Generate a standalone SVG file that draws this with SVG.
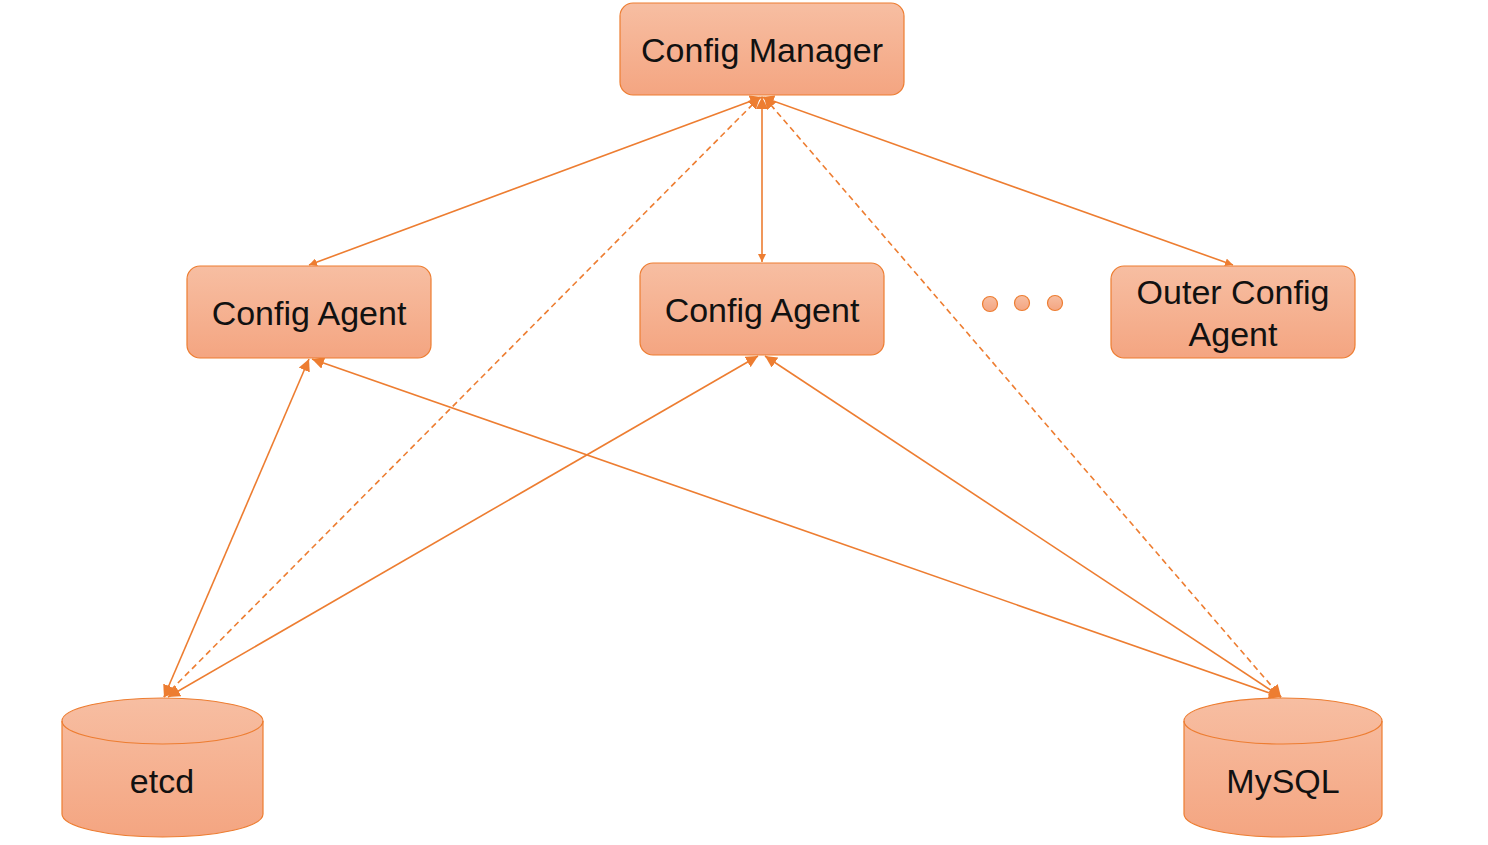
<svg xmlns="http://www.w3.org/2000/svg" width="1488" height="845" viewBox="0 0 1488 845">
<style>
.box{stroke:#ED7D31;stroke-width:1.2;fill:url(#g)}
.lbl{font-family:"Liberation Sans",Arial,sans-serif;font-size:34px;fill:#111;text-anchor:middle}
.c{stroke:#ED7D31;stroke-width:1.6;fill:none}
.d{stroke-dasharray:6 4}
</style>
<defs>
<linearGradient id="g" x1="0" y1="0" x2="0" y2="1">
<stop offset="0" stop-color="#F7BEA2"/>
<stop offset="1" stop-color="#F4A581"/>
</linearGradient>
<marker id="a" viewBox="0 0 10 10" refX="10" refY="5" markerWidth="8" markerHeight="8" orient="auto-start-reverse" markerUnits="userSpaceOnUse">
<path d="M0,0 L10,5 L0,10 z" fill="#ED7D31"/>
</marker>
<marker id="b" viewBox="0 0 10 10" refX="10" refY="5" markerWidth="12" markerHeight="12" orient="auto-start-reverse" markerUnits="userSpaceOnUse">
<path d="M0,0 L10,5 L0,10 z" fill="#ED7D31"/>
</marker>
</defs>
<g id="connectors">
<line class="c" x1="762" y1="97" x2="309" y2="265" marker-start="url(#b)" marker-end="url(#a)"/>
<line class="c" x1="762" y1="97" x2="762" y2="262" marker-start="url(#b)" marker-end="url(#a)"/>
<line class="c" x1="762" y1="97" x2="1233" y2="265" marker-start="url(#b)" marker-end="url(#a)"/>
<line class="c d" x1="760" y1="97" x2="164" y2="697" marker-start="url(#b)" marker-end="url(#b)"/>
<line class="c d" x1="764" y1="97" x2="1281" y2="697" marker-start="url(#b)" marker-end="url(#b)"/>
<line class="c" x1="309" y1="359" x2="164" y2="697" marker-start="url(#b)" marker-end="url(#b)"/>
<line class="c" x1="312" y1="359" x2="1281" y2="697" marker-start="url(#b)" marker-end="url(#b)"/>
<line class="c" x1="758" y1="356" x2="168" y2="697" marker-start="url(#b)" marker-end="url(#b)"/>
<line class="c" x1="765" y1="356" x2="1281" y2="697" marker-start="url(#b)" marker-end="url(#b)"/>
</g>
<g id="config-manager">
<rect class="box" x="620" y="3" width="284" height="92" rx="13"/>
<text class="lbl" x="762" y="62">Config Manager</text>
</g>
<g id="config-agent-1">
<rect class="box" x="187" y="266" width="244" height="92" rx="13"/>
<text class="lbl" x="309" y="325">Config Agent</text>
</g>
<g id="config-agent-2">
<rect class="box" x="640" y="263" width="244" height="92" rx="13"/>
<text class="lbl" x="762" y="322">Config Agent</text>
</g>
<g id="outer-config-agent">
<rect class="box" x="1111" y="266" width="244" height="92" rx="13"/>
<text class="lbl" x="1233" y="304">Outer Config</text>
<text class="lbl" x="1233" y="346">Agent</text>
</g>
<g id="ellipsis">
<circle class="box" cx="990" cy="304" r="7.5"/>
<circle class="box" cx="1022" cy="303" r="7.5"/>
<circle class="box" cx="1055" cy="303" r="7.5"/>
</g>
<g id="etcd">
<path class="box" d="M62,721 V814 A100.5,23 0 0 0 263,814 V721 A100.5,23 0 0 0 62,721 Z"/>
<path d="M62,721 A100.5,23 0 0 0 263,721" fill="none" stroke="#ED7D31" stroke-width="1.2"/>
<text class="lbl" x="162" y="793">etcd</text>
</g>
<g id="mysql">
<path class="box" d="M1184,721 V814 A99,23 0 0 0 1382,814 V721 A99,23 0 0 0 1184,721 Z"/>
<path d="M1184,721 A99,23 0 0 0 1382,721" fill="none" stroke="#ED7D31" stroke-width="1.2"/>
<text class="lbl" x="1283" y="793">MySQL</text>
</g>
</svg>
